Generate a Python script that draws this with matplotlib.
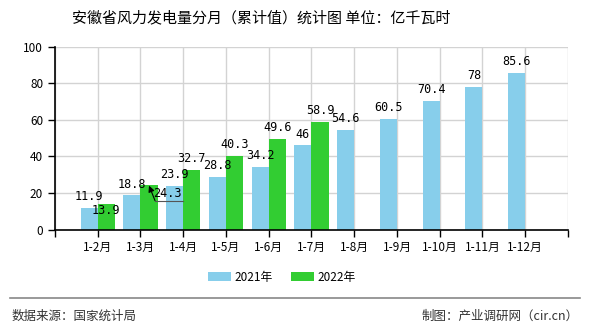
import matplotlib.pyplot as plt
import numpy as np

plt.rcParams['font.family'] = ['Noto Sans CJK SC', 'DejaVu Sans']

months = ['1-2月', '1-3月', '1-4月', '1-5月', '1-6月', '1-7月', '1-8月', '1-9月', '1-10月', '1-11月', '1-12月']
v2021 = [11.9, 18.8, 23.9, 28.8, 34.2, 46, 54.6, 60.5, 70.4, 78, 85.6]
v2022 = [13.9, 24.3, 32.7, 40.3, 49.6, 58.9]
lab2021 = ['11.9', '18.8', '23.9', '28.8', '34.2', '46', '54.6', '60.5', '70.4', '78', '85.6']
lab2022 = ['13.9', '24.3', '32.7', '40.3', '49.6', '58.9']

c2021 = '#87CEEB'
c2022 = '#32CD32'

fig = plt.figure(figsize=(5.9, 3.3), dpi=100)
ax = fig.add_axes([0.0932, 0.3045, 0.8695, 0.554])

x = np.arange(1, len(months) + 1)
x2 = np.arange(1, len(v2022) + 1)
w = 0.4
ax.bar(x - w / 2, v2021, width=w, color=c2021, label='2021年', zorder=2)
ax.bar(x2 + w / 2, v2022, width=w, color=c2022, label='2022年', zorder=2)

mono = 'DejaVu Sans Mono'
for xi, v, t in zip(x, v2021, lab2021):
    ax.text(xi - w / 2, v + 2.5, t, ha='center', va='bottom', fontsize=8.5, family=mono, zorder=3)
for xi, v, t in zip(x2, v2022, lab2022):
    if t == '13.9':
        ax.text(xi + w / 2, v - 3.3, t, ha='center', va='center', fontsize=8.5, family=mono, zorder=3)
    elif t == '24.3':
        # label pushed aside, with a leader back to the bar top
        ax.plot([2.34, 2.99], [15.8, 15.8], color='#555555', lw=0.8, zorder=3)
        ax.annotate('', xy=(2.2, 24.0), xytext=(2.34, 15.8),
                    arrowprops=dict(arrowstyle='-|>', color='black', lw=0.8,
                                    mutation_scale=9, shrinkA=0, shrinkB=0), zorder=3)
        ax.text(2.64, 19.9, t, ha='center', va='center', fontsize=8.5, family=mono, zorder=3)
    else:
        ax.text(xi + w / 2, v + 2.5, t, ha='center', va='bottom', fontsize=8.5, family=mono, zorder=3)

ax.set_xlim(0, 12)
ax.set_ylim(0, 100)
ax.set_xticks(np.arange(0, 13))
ax.set_xticklabels([''] + months + [''], fontsize=8.5)
ax.set_yticks([0, 20, 40, 60, 80, 100])
ax.tick_params(axis='y', labelsize=8.5, length=5, width=1)
ax.tick_params(axis='x', length=5, width=1)
ax.grid(True, color='#d3d3d3', lw=1, zorder=0)
ax.spines['top'].set_visible(False)
ax.spines['right'].set_visible(False)
ax.spines['left'].set_linewidth(1.2)
ax.spines['bottom'].set_linewidth(1.2)

fig.text(0.443, 0.945, '安徽省风力发电量分月（累计值）统计图 单位：亿千瓦时',
         ha='center', va='center', fontsize=10.8)

fig.legend(loc='center', bbox_to_anchor=(0.478, 0.16), ncol=2, frameon=False,
           fontsize=8.5, handlelength=1.9, handleheight=0.8, columnspacing=1.6, handletextpad=0.3)

fig.add_artist(plt.Line2D([0.017, 0.983], [0.097, 0.097], color='#888888', lw=1.2))
fig.text(0.02, 0.042, '数据来源：国家统计局', ha='left', va='center', fontsize=9, color='#333333')
fig.text(0.98, 0.042, '制图：产业调研网（cir.cn）', ha='right', va='center', fontsize=9, color='#333333')

fig.savefig('out.png', dpi=100)
